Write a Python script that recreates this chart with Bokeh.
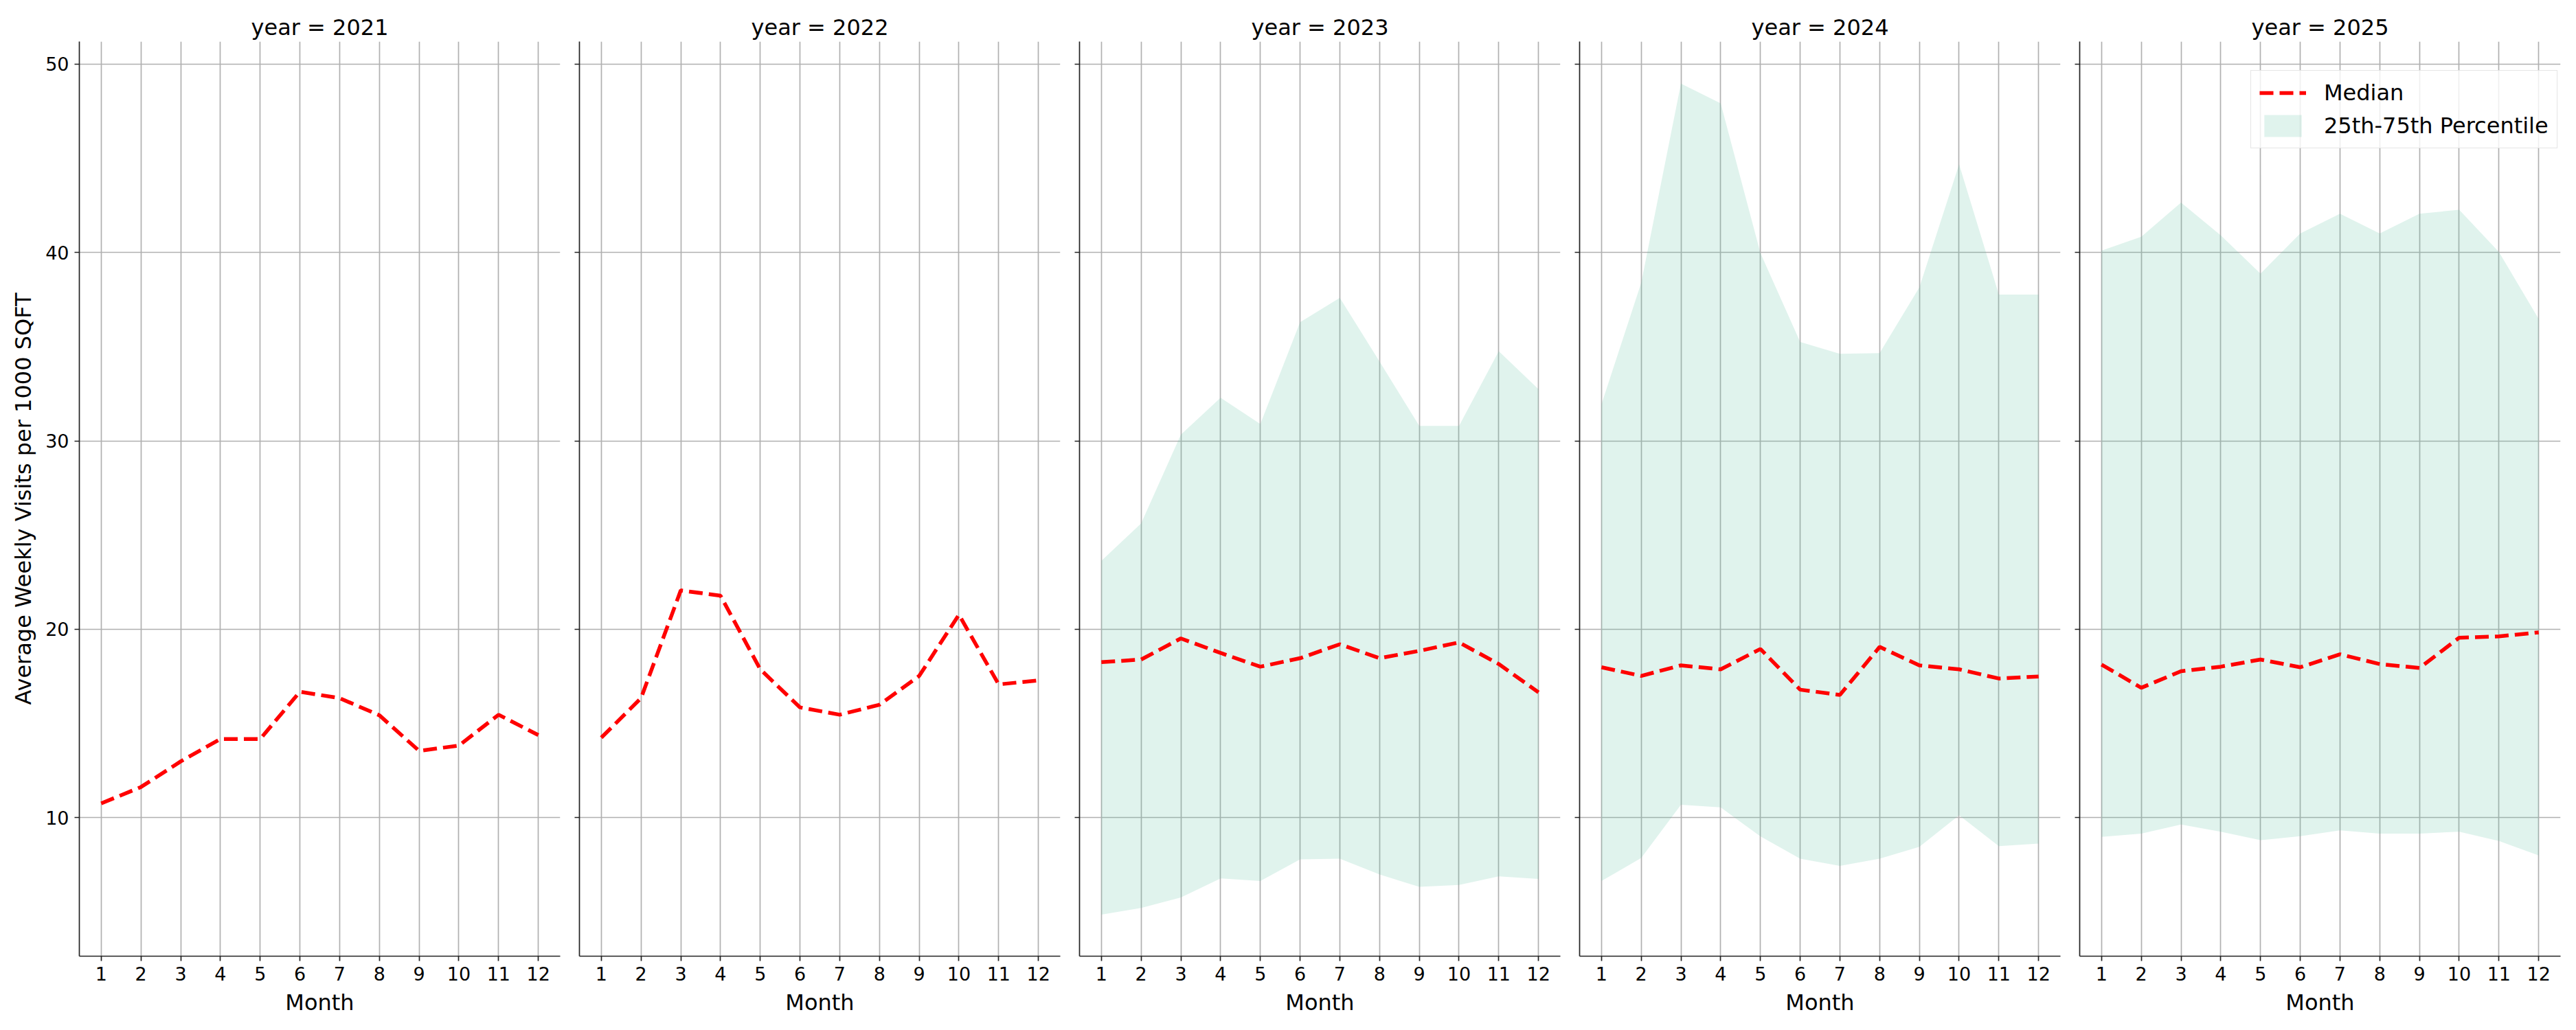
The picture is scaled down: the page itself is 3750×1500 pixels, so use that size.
from bokeh.embed import file_html
from bokeh.layouts import row
from bokeh.models import FixedTicker, Legend, LegendItem, Range1d
from bokeh.plotting import figure
from bokeh.resources import INLINE

months = list(range(1, 13))
years = [2021, 2022, 2023, 2024, 2025]

median_2021 = [10.75, 11.62, 12.98, 14.17, 14.17, 16.68, 16.34, 15.43, 13.54, 13.82, 15.46, 14.38]
median_2022 = [14.24, 16.34, 22.06, 21.78, 17.87, 15.85, 15.46, 15.99, 17.52, 20.77, 17.07, 17.28]
median_2023 = [18.25, 18.39, 19.51, 18.74, 18.01, 18.46, 19.20, 18.46, 18.85, 19.30, 18.15, 16.65]
median_2024 = [17.98, 17.52, 18.08, 17.87, 18.95, 16.79, 16.51, 19.06, 18.08, 17.87, 17.38, 17.49]
median_2025 = [18.12, 16.89, 17.77, 18.01, 18.39, 17.98, 18.67, 18.15, 17.94, 19.55, 19.62, 19.83]

p25_2023 = [4.85, 5.20, 5.76, 6.77, 6.63, 7.78, 7.82, 6.98, 6.32, 6.42, 6.88, 6.74]
p75_2023 = [23.63, 25.62, 30.33, 32.29, 30.89, 36.30, 37.59, 34.21, 30.79, 30.79, 34.76, 32.74]
p25_2024 = [6.63, 7.85, 10.68, 10.54, 9.00, 7.82, 7.43, 7.82, 8.45, 10.12, 8.48, 8.62]
p75_2024 = [31.94, 38.39, 48.97, 47.92, 39.97, 35.25, 34.62, 34.66, 38.15, 44.68, 37.77, 37.77]
p25_2025 = [8.97, 9.15, 9.63, 9.25, 8.80, 9.01, 9.32, 9.15, 9.15, 9.25, 8.76, 7.99]
p75_2025 = [40.10, 40.84, 42.65, 40.91, 38.88, 41.01, 42.06, 41.01, 42.06, 42.27, 40.03, 36.47]

y_ticks = [10, 20, 30, 40, 50]

medians = {2021: median_2021, 2022: median_2022, 2023: median_2023,
           2024: median_2024, 2025: median_2025}
bands = {2023: (p25_2023, p75_2023), 2024: (p25_2024, p75_2024),
         2025: (p25_2025, p75_2025)}

FONT = "DejaVu Sans"
GRID = "#b0b0b0"
SPINE = "#222222"

panels = []
for i, year in enumerate(years):
    first = i == 0
    p = figure(
        width=828 if first else 728, height=1492,
        x_range=Range1d(0.45, 12.55), y_range=Range1d(2.64, 51.2),
        toolbar_location=None, output_backend="svg",
        min_border_left=115 if first else 15, min_border_right=13,
        min_border_top=60, min_border_bottom=100,
    )
    p.outline_line_color = None
    p.background_fill_color = "white"

    p.title.text = f"year = {year}"
    p.title.align = "center"
    p.title.text_font = FONT
    p.title.text_font_size = "32px"
    p.title.text_font_style = "normal"
    p.title.text_color = "black"
    p.title.standoff = 4

    p.xaxis.ticker = FixedTicker(ticks=months)
    p.yaxis.ticker = FixedTicker(ticks=y_ticks)
    for ax in (p.xaxis, p.yaxis):
        ax.axis_line_color = SPINE
        ax.axis_line_width = 1.7
        ax.major_tick_line_color = SPINE
        ax.major_tick_line_width = 1.7
        ax.major_tick_out = 7
        ax.major_tick_in = 0
        ax.minor_tick_out = 0
        ax.minor_tick_in = 0
        ax.major_label_text_font = FONT
        ax.major_label_text_font_size = "27px"
        ax.major_label_text_color = "black"
        ax.major_label_standoff = 8
        ax.axis_label_text_font = FONT
        ax.axis_label_text_font_size = "32px"
        ax.axis_label_text_font_style = "normal"
        ax.axis_label_text_color = "black"
        ax.axis_label_standoff = 10

    p.xaxis.axis_label = "Month"
    if first:
        p.yaxis.axis_label = "Average Weekly Visits per 1000 SQFT"
    else:
        p.yaxis.major_label_overrides = {t: "" for t in y_ticks}

    p.grid.grid_line_color = GRID
    p.grid.grid_line_width = 1.7

    band_r = None
    if year in bands:
        low, high = bands[year]
        band_r = p.varea(x=months, y1=low, y2=high,
                         fill_color="#66c2a5", fill_alpha=0.2)
    line_r = p.line(months, medians[year], line_color="red",
                    line_width=5.5, line_dash="20 9")

    if year == 2025:
        legend = Legend(
            items=[LegendItem(label="Median", renderers=[line_r]),
                   LegendItem(label="25th-75th Percentile", renderers=[band_r])],
            location=(249, 1176),
            label_text_font=FONT, label_text_font_size="32px",
            label_text_color="black",
            glyph_width=68, glyph_height=40, label_height=40,
            label_standoff=26, spacing=8, padding=12, margin=0,
            border_line_color="#cccccc", border_line_width=1.5,
            background_fill_color="white", background_fill_alpha=0.8,
        )
        p.add_layout(legend)

    panels.append(p)

layout = row(*panels)
open("out.html", "w").write(file_html(layout, INLINE))
